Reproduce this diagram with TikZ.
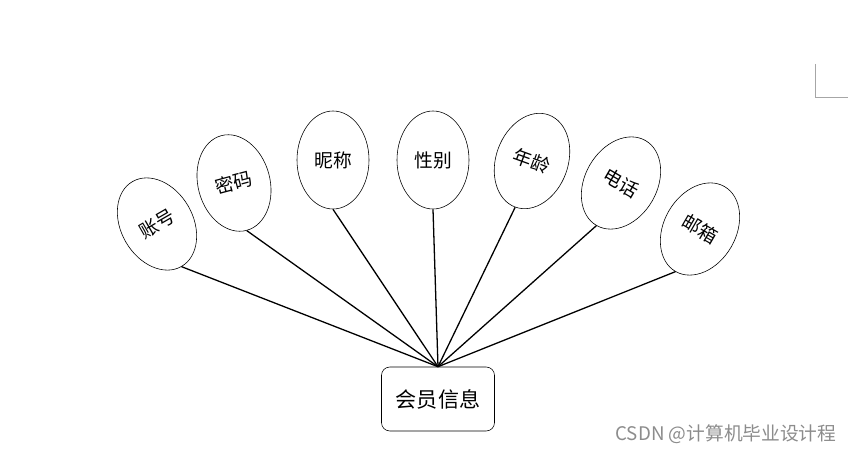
\documentclass[tikz,border=0pt]{standalone}
\usepackage{fontspec}
\setmainfont{Noto Sans CJK SC}
\usetikzlibrary{shapes.geometric}

\begin{document}
\begin{tikzpicture}[x=0.03cm,y=-0.03cm,
  attr/.style={draw,ellipse,inner sep=0pt,minimum width=2.16cm,minimum height=2.94cm,line width=0.5pt,font=\fontsize{16}{16}\selectfont},
  ent/.style={draw,rounded corners=0.25cm,minimum width=3.39cm,minimum height=1.92cm,line width=0.5pt,font=\fontsize{18}{18}\selectfont},
  link/.style={line width=1.1pt}]
\useasboundingbox (0,0) rectangle (857,453);
\node[ent] (info) at (438,399) {会员信息};
\node[attr,rotate=30] (acc) at (157,224) {账号};
\node[attr,rotate=15] (pwd) at (234,183) {密码};
\node[attr] (nick) at (333,160) {昵称};
\node[attr] (sex) at (433,160) {性别};
\node[attr,rotate=-20] (age) at (532,161) {年龄};
\node[attr,rotate=-30] (tel) at (621,183) {电话};
\node[attr,rotate=-30] (mail) at (700,229) {邮箱};
\foreach \a in {acc,pwd,nick,sex,age,tel,mail}
  \draw[link] (info.north) -- (\a.south);
\draw[black!35,line width=0.6pt] (815,64) -- (815,97) -- (848,97);
\node[text=black!45,font=\fontsize{16}{16}\selectfont] (mark) at (726,434) {CSDN @计算机毕业设计程};
\end{tikzpicture}
\end{document}
